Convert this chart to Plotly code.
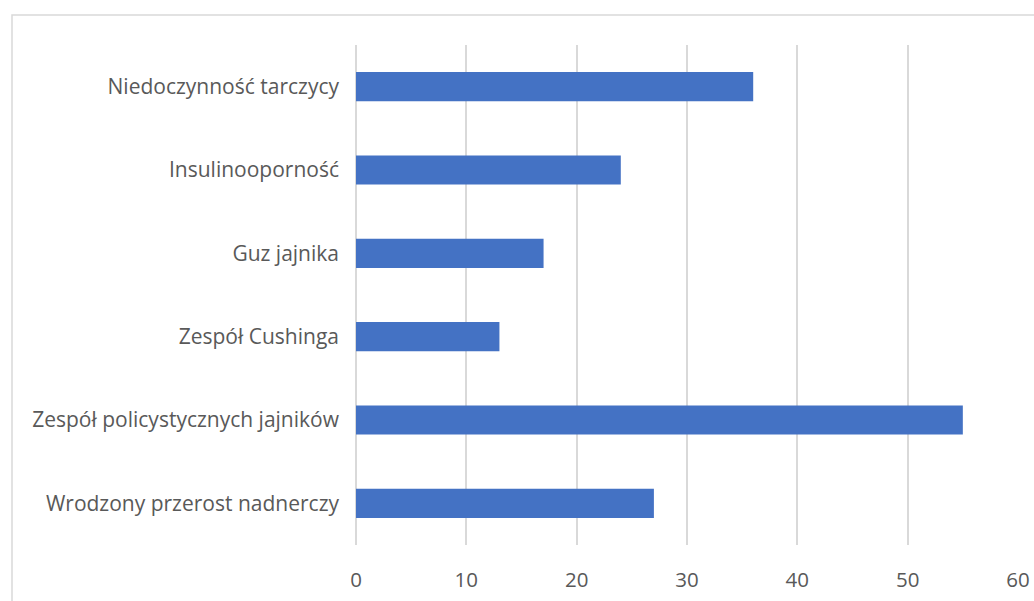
import plotly.graph_objects as go

categories = ["Wrodzony przerost nadnerczy", "Zespół policystycznych jajników",
              "Zespół Cushinga", "Guz jajnika", "Insulinooporność", "Niedoczynność tarczycy"]
values = [27, 55, 13, 17, 24, 36]
x_ticks = [0, 10, 20, 30, 40, 50, 60]

W, H = 1034, 601
L, R, T, B = 356, 16, 45, 56

fig = go.Figure(go.Bar(
    y=categories, x=values, orientation="h",
    marker=dict(color="#4472C4", line=dict(width=0)),
    width=0.35,
))

# chart border (starts at x=12,y=15, runs off the right/bottom edges)
pw, ph = W - L - R, H - T - B
x0 = (12 - L) / pw
x1 = (W + 10 - L) / pw
y1 = 1 + (T - 15) / ph
y0 = -(B + 10) / ph
fig.add_shape(type="rect", xref="paper", yref="paper", x0=x0, x1=x1, y0=y0, y1=y1,
              line=dict(color="#D9D9D9", width=1.5), fillcolor="rgba(0,0,0,0)", layer="below")

fig.update_layout(
    width=W, height=H,
    margin=dict(l=L, r=R, t=T, b=B, pad=0, autoexpand=False),
    paper_bgcolor="white", plot_bgcolor="white",
    showlegend=False,
    font=dict(family="Open Sans", size=20, color="#595959"),
    xaxis=dict(range=[0, 60], tickvals=x_ticks, showgrid=True, gridcolor="#D9D9D9", gridwidth=1.5,
               zeroline=True, zerolinecolor="#D9D9D9", zerolinewidth=1.5,
               showline=False, ticks="", ticklabelstandoff=20, automargin=False,
               tickfont=dict(size=20.5, color="#595959")),
    yaxis=dict(showgrid=False, zeroline=False, showline=False, ticks="", automargin=False,
               ticklabelstandoff=16, tickfont=dict(size=21, color="#595959"),
               range=[-0.5, 5.5]),
)

fig.write_html("out.html")
